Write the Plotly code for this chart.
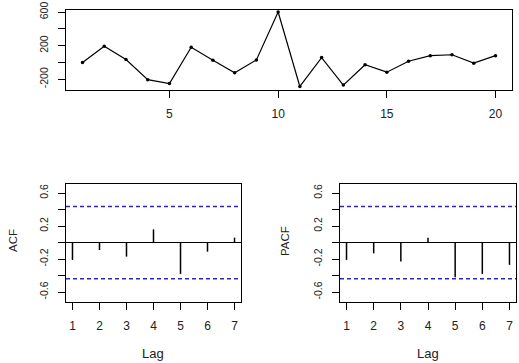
import plotly.graph_objects as go

# ---- data ----
time_index = list(range(1, 21))
series_values = [0, 192, 35, -204, -250, 181, 27, -123, 31, 600,
                 -285, 58, -269, -27, -115, 15, 81, 92, -8, 81]
lags = [1, 2, 3, 4, 5, 6, 7]
acf_values = [-0.21, -0.09, -0.17, 0.16, -0.38, -0.11, 0.06]
pacf_values = [-0.21, -0.13, -0.23, 0.06, -0.42, -0.38, -0.27]
conf_bound = 0.438
top_tickvals = [-200, 0, 200, 400, 600]
top_ticktext = ["-200", "", "200", "", "600"]
cf_tickvals = [-0.6, -0.4, -0.2, 0.0, 0.2, 0.4, 0.6]
cf_ticktext = ["-0.6", "", "-0.2", "", "0.2", "", "0.6"]
x_tickvals_top = [5, 10, 15, 20]

W, H = 519, 363
def xd(a, b):
    return [a / W, b / W]
def yd(top, bottom):
    return [1 - bottom / H, 1 - top / H]

FONT = "Liberation Sans, Arial, sans-serif"
TXT = "#222222"

fig = go.Figure()

fig.add_trace(go.Scatter(x=time_index, y=series_values, mode="lines+markers",
                         line=dict(color="black", width=1.2),
                         marker=dict(color="black", size=3.5),
                         xaxis="x", yaxis="y", showlegend=False))

def stems(xs, ys):
    sx, sy = [], []
    for a, b in zip(xs, ys):
        sx += [a, a, None]
        sy += [0, b, None]
    return sx, sy

ax, ay = stems(lags, acf_values)
fig.add_trace(go.Scatter(x=ax, y=ay, mode="lines", line=dict(color="black", width=1.5),
                         xaxis="x2", yaxis="y2", showlegend=False))
px_, py_ = stems(lags, pacf_values)
fig.add_trace(go.Scatter(x=px_, y=py_, mode="lines", line=dict(color="black", width=1.5),
                         xaxis="x3", yaxis="y3", showlegend=False))

xfont = dict(family=FONT, size=12, color=TXT)
yfont = dict(family=FONT, size=10.5, color=TXT)
base = dict(showline=True, linecolor="black", linewidth=1.3, mirror=True,
            ticks="outside", ticklen=7, tickcolor="black", tickwidth=1.3,
            showgrid=False, ticklabeloverflow="allow", automargin=False)

fig.update_layout(
    width=W, height=H, margin=dict(l=0, r=0, t=0, b=0, pad=0, autoexpand=False),
    paper_bgcolor="white", plot_bgcolor="white",
    xaxis=dict(domain=xd(66, 512), range=[0.24, 20.76], tickvals=x_tickvals_top,
               zeroline=False, ticklabelstandoff=5, tickfont=xfont, **base),
    yaxis=dict(domain=yd(10, 90), range=[-327, 624], tickvals=top_tickvals,
               ticktext=top_ticktext, tickangle=-90, zeroline=False,
               ticklabelstandoff=6, tickfont=yfont, **base),
    xaxis2=dict(domain=xd(66, 241), range=[0.76, 7.24], tickvals=lags,
                zeroline=False, anchor="y2", ticklabelstandoff=5, tickfont=xfont, **base),
    yaxis2=dict(domain=yd(184, 302), range=[-0.72, 0.71], tickvals=cf_tickvals,
                ticktext=cf_ticktext, tickangle=-90, anchor="x2",
                zeroline=True, zerolinecolor="black", zerolinewidth=1.3,
                ticklabelstandoff=6, tickfont=yfont, **base),
    xaxis3=dict(domain=xd(340, 516), range=[0.76, 7.24], tickvals=lags,
                zeroline=False, anchor="y3", ticklabelstandoff=5, tickfont=xfont, **base),
    yaxis3=dict(domain=yd(184, 302), range=[-0.72, 0.71], tickvals=cf_tickvals,
                ticktext=cf_ticktext, tickangle=-90, anchor="x3",
                zeroline=True, zerolinecolor="black", zerolinewidth=1.3,
                ticklabelstandoff=6, tickfont=yfont, **base),
)

for xr, yr in (("x2", "y2"), ("x3", "y3")):
    for v in (conf_bound, -conf_bound):
        fig.add_shape(type="line", xref=f"{xr} domain", yref=yr, x0=0, x1=1, y0=v, y1=v,
                      line=dict(color="#2a2ab0", width=1.5, dash="4px,3px"))

def label(text, x, y, angle, size):
    fig.add_annotation(text=text, x=x / W, y=1 - y / H, xref="paper", yref="paper",
                       xanchor="center", yanchor="middle", showarrow=False,
                       textangle=angle, font=dict(family=FONT, size=size, color=TXT))

label("ACF", 13, 241, -90, 11.5)
label("PACF", 285, 241, -90, 11.5)
label("Lag", 153.5, 353, 0, 13)
label("Lag", 428, 353, 0, 13)

fig.write_html("out.html", config={"displayModeBar": False},
               post_script="document.body.style.margin='0';document.body.style.overflow='hidden';")
